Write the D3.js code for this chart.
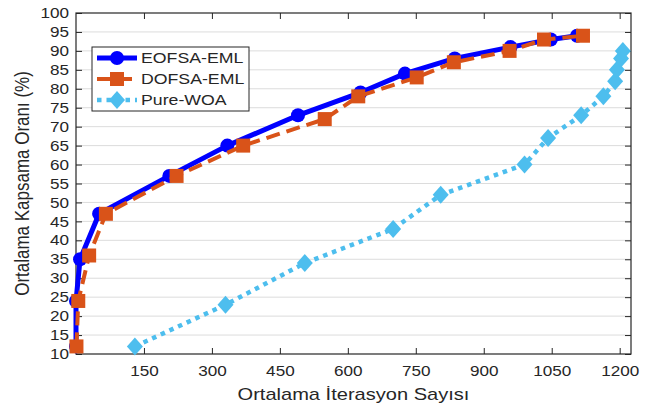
<!DOCTYPE html>
<html><head><meta charset="utf-8">
<script src="https://cdn.jsdelivr.net/npm/d3@7"></script>
<style>body{margin:0;background:#fff}svg{display:block}text{font-family:"Liberation Sans",Arial,sans-serif;fill:#262626}</style>
</head><body><svg id="c" width="656" height="405"></svg>
<script>
const seriesNames = ["EOFSA-EML", "DOFSA-EML", "Pure-WOA"];
const eofsaX = [0, 0, 9, 51, 206, 334, 490, 628, 726, 836, 959, 1048, 1106];
const eofsaY = [12, 24, 35, 47, 57, 65, 73, 79, 84, 88, 91, 93, 94];
const dofsaX = [1, 5, 29, 66, 222, 369, 549, 623, 752, 834, 957, 1033, 1119];
const dofsaY = [12, 24, 36, 47, 57, 65, 72, 78, 83, 87, 90, 93, 94];
const woaX = [130, 330, 505, 700, 805, 990, 1042, 1115, 1164, 1190, 1194, 1203, 1207];
const woaY = [12, 23, 34, 43, 52, 60, 67, 73, 78, 82, 85, 88, 90];
const xTicks = [150, 300, 450, 600, 750, 900, 1050, 1200];
const yTicks = [10,15,20,25,30,35,40,45,50,55,60,65,70,75,80,85,90,95,100];
const xLabel = "Ortalama İterasyon Sayısı";
const yLabel = "Ortalama Kapsama Oranı (%)";

const SX = 1.18; // horizontal glyph stretch seen in the reference
function stretch(sel, k) {
  sel.each(function () {
    const w = this.getComputedTextLength();
    d3.select(this).attr("textLength", w * k).attr("lengthAdjust", "spacingAndGlyphs");
  });
}

const svg = d3.select("#c");
const L = 76, R = 631, T = 13, B = 354;
const x = d3.scaleLinear().domain([0, 1225]).range([L, R]);
const y = d3.scaleLinear().domain([10, 100]).range([B, T]);

// grid
svg.append("g").selectAll("line").data(yTicks.filter(d => d > 10 && d < 100)).join("line")
  .attr("x1", L).attr("x2", R).attr("y1", d => y(d)).attr("y2", d => y(d))
  .attr("stroke", "#dcdcdc").attr("stroke-width", 1);

// axes
const tickLen = 6;
const fmt = d3.format("d");
const ax = svg.append("g");
ax.append("g").attr("transform", `translate(0,${B})`)
  .call(d3.axisBottom(x).tickValues(xTicks).tickSize(-tickLen).tickPadding(12).tickFormat(fmt))
  .call(g => g.select(".domain").remove());
ax.append("g").attr("transform", `translate(0,${T})`)
  .call(d3.axisTop(x).tickValues(xTicks).tickSize(-tickLen).tickFormat(""))
  .call(g => g.select(".domain").remove());
ax.append("g").attr("transform", `translate(${L},0)`)
  .call(d3.axisLeft(y).tickValues(yTicks).tickSize(-tickLen).tickPadding(7).tickFormat(fmt))
  .call(g => g.select(".domain").remove());
ax.append("g").attr("transform", `translate(${R},0)`)
  .call(d3.axisRight(y).tickValues(yTicks).tickSize(-tickLen).tickFormat(""))
  .call(g => g.select(".domain").remove());
ax.selectAll(".tick line").attr("stroke", "#262626");
ax.selectAll(".tick text").style("font-size", "14.5px").attr("fill", "#262626")
  .style("font-family", '"Liberation Sans",Arial,sans-serif');
stretch(ax.selectAll(".tick text"), SX);
ax.append("rect").attr("x", L).attr("y", T).attr("width", R - L).attr("height", B - T)
  .attr("fill", "none").attr("stroke", "#262626").attr("stroke-width", 1.2);

const line = d3.line();
function pts(xs, ys) { return xs.map((v, i) => [x(v), y(ys[i])]); }

const series = [
  {name: seriesNames[0], p: pts(eofsaX, eofsaY), color: "#0000ff", w: 5, dash: null, marker: "circle"},
  {name: seriesNames[1], p: pts(dofsaX, dofsaY), color: "#d95319", w: 4, dash: "14,7", marker: "square"},
  {name: seriesNames[2], p: pts(woaX, woaY), color: "#4dbeee", w: 4.5, dash: "4.5,5", marker: "diamond"}
];

function drawMarker(g, type, cx, cy, color) {
  if (type === "circle") g.append("circle").attr("cx", cx).attr("cy", cy).attr("r", 7).attr("fill", color);
  else if (type === "square") g.append("rect").attr("x", cx - 7).attr("y", cy - 7).attr("width", 14).attr("height", 14).attr("fill", color);
  else g.append("path").attr("d", `M${cx},${cy-9}L${cx+8},${cy}L${cx},${cy+9}L${cx-8},${cy}Z`).attr("fill", color);
}

series.forEach(s => {
  const g = svg.append("g");
  g.append("path").attr("d", line(s.p)).attr("fill", "none").attr("stroke", s.color)
    .attr("stroke-width", s.w).attr("stroke-dasharray", s.dash).attr("stroke-linejoin", "round");
  s.p.forEach(([cx, cy]) => drawMarker(g, s.marker, cx, cy, s.color));
});

// legend
const lg = svg.append("g");
lg.append("rect").attr("x", 92).attr("y", 47).attr("width", 157).attr("height", 64)
  .attr("fill", "#fff").attr("stroke", "#262626").attr("stroke-width", 1);
series.forEach((s, i) => {
  const ly = 58 + i * 21;
  lg.append("path").attr("d", `M97,${ly}L137,${ly}`).attr("stroke", s.color).attr("stroke-width", s.w)
    .attr("stroke-dasharray", s.dash);
  drawMarker(lg, s.marker, 117, ly, s.color);
  const t = lg.append("text").attr("x", 141).attr("y", ly).attr("dy", "0.36em").style("font-size", "15px").text(s.name);
  stretch(t, SX);
});

// axis labels
const xl = svg.append("text").attr("x", (L + R) / 2).attr("y", 400).attr("text-anchor", "middle")
  .style("font-size", "17px").text(xLabel);
stretch(xl, SX);
svg.append("text").attr("transform", `translate(29,${(T + B) / 2}) rotate(-90) scale(1,${SX})`).attr("text-anchor", "middle")
  .style("font-size", "17px").text(yLabel);
</script></body></html>
